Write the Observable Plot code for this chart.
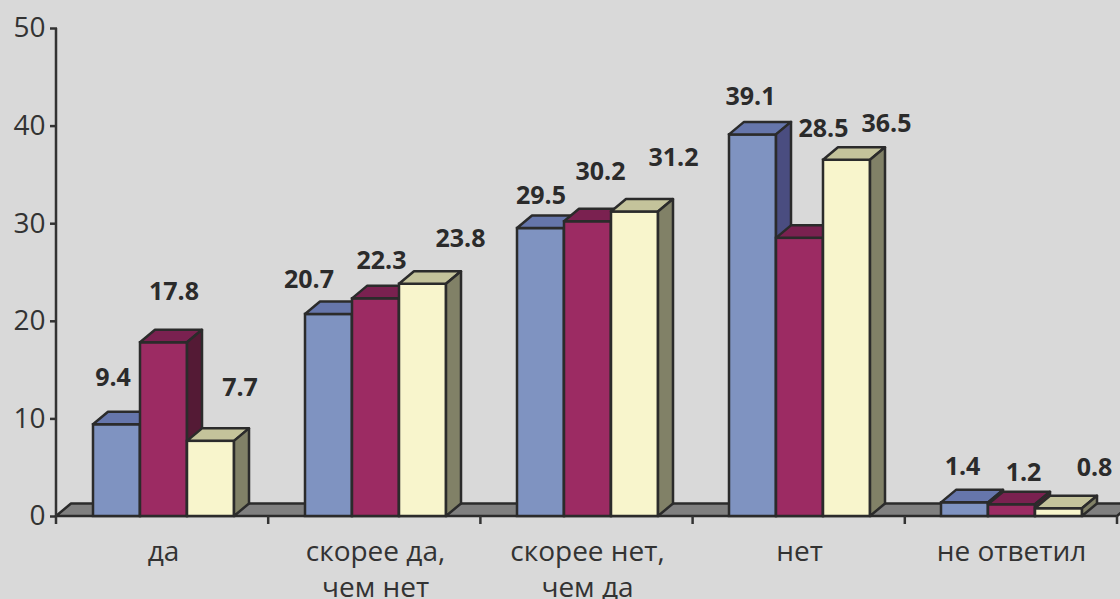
<!DOCTYPE html>
<html>
<head>
<meta charset="utf-8">
<script src="https://cdn.jsdelivr.net/npm/d3@7"></script>
<script src="https://cdn.jsdelivr.net/npm/@observablehq/plot@0.6"></script>
<style>
  html, body { margin: 0; padding: 0; background: #d9d9d9; }
  #chart svg { display: block; }
</style>
</head>
<body>
<div id="chart"></div>
<script>
// ---------- data ----------
const categories = ["да", "скорее да,\nчем нет", "скорее нет,\nчем да", "нет", "не ответил"];
const seriesNames = ["Серия 1", "Серия 2", "Серия 3"];
const series1 = [9.4, 20.7, 29.5, 39.1, 1.4];
const series2 = [17.8, 22.3, 30.2, 28.5, 1.2];
const series3 = [7.7, 23.8, 31.2, 36.5, 0.8];
const yTicks = [0, 10, 20, 30, 40, 50];

// ---------- style ----------
const frontColors = ["#7f93c1", "#9c2b63", "#f8f5cc"];
const topColors   = ["#6676ab", "#7a2150", "#c4c39b"];
const sideColors  = ["#4a4d80", "#541a35", "#818167"];
const floorColor = "#808080";
const ink = "#2b2b2b";
const DEPTH_X = 15, DEPTH_Y = 12.5;
// label nudges (px) relative to the bar's front-top centre, per category × series
const labelNudgeX = [[-4, 10, 29], [-20, 5.5, 37.5], [0, 12.5, 38.5], [-2.5, 23.5, 39.5], [-2.5, 11.5, 35.5]];
const labelNudgeY = [[-47, -51, -53], [-34, -38, -45], [-33, -50, -54], [-38, -109, -36], [-36, -32, -41]];

const seriesValues = [series1, series2, series3];
const table = categories.flatMap((c, i) =>
  seriesNames.map((s, j) => ({category: c, series: s, value: seriesValues[j][i]})));

const plot = Plot.plot({
  width: 1120,
  height: 599,
  marginTop: 28,
  marginBottom: 83,
  marginLeft: 56,
  marginRight: 3,
  style: {background: "#d9d9d9", fontFamily: "'Open Sans', sans-serif", fontSize: "28px", color: "#333"},
  fx: {domain: categories, padding: 0, axis: null},
  x: {domain: seriesNames, paddingInner: 0, paddingOuter: 0.75, axis: null},
  y: {domain: [0, 50], axis: null},
  color: {domain: seriesNames, range: frontColors},
  marks: [
    Plot.axisY(yTicks, {tickSize: 7, tickPadding: 5, strokeWidth: 2.5, stroke: "#333", fill: "#333", fontSize: 28, label: null}),
    Plot.barY(table, {fx: "category", x: "series", y: "value", fill: "series", stroke: ink, strokeWidth: 2.5}),
    Plot.text(table, {fx: "category", x: "series", y: "value", text: d => d.value.toFixed(1),
      fontSize: 25, fontWeight: "bold", fill: ink}),
    Plot.text(categories, {fx: d => d, text: d => d, frameAnchor: "bottom", lineAnchor: "top",
      dy: 19, lineHeight: 1.29, fontSize: 28, fill: "#333"})
  ]
});

// ---------- 3D decoration derived from the rendered marks ----------
const NS = "http://www.w3.org/2000/svg";
function poly(points, fill) {
  const p = document.createElementNS(NS, "polygon");
  p.setAttribute("points", points.map(q => q.join(",")).join(" "));
  p.setAttribute("fill", fill);
  p.setAttribute("stroke", ink);
  p.setAttribute("stroke-width", 2.5);
  p.setAttribute("stroke-linejoin", "round");
  return p;
}
function line(x1, y1, x2, y2) {
  const l = document.createElementNS(NS, "line");
  l.setAttribute("x1", x1); l.setAttribute("y1", y1);
  l.setAttribute("x2", x2); l.setAttribute("y2", y2);
  l.setAttribute("stroke", "#333");
  l.setAttribute("stroke-width", 2.5);
  return l;
}

const fx = plot.scale("fx");
const yS = plot.scale("y");
const left = Math.min(...fx.range), right = Math.max(...fx.range);
const y0 = yS.apply(0), yTop = yS.apply(50);
const step = (right - left) / categories.length;

const colorOf = el => {
  const c = d3.color(el.getAttribute("fill") || (el.parentNode && el.parentNode.getAttribute("fill")) || "");
  return c ? c.formatHex().toLowerCase() : "";
};
const rects = Array.from(plot.querySelectorAll("rect")).filter(r => frontColors.includes(colorOf(r)));

// floor slab, placed behind the bars
if (rects.length) {
  let topLevel = rects[0];
  while (topLevel.parentNode !== plot) topLevel = topLevel.parentNode;
  plot.insertBefore(poly([[left, y0], [right, y0], [right + DEPTH_X, y0 - DEPTH_Y], [left + DEPTH_X, y0 - DEPTH_Y]], floorColor), topLevel);
}

// bar tops and sides
rects.forEach((r, k) => {
  const x = +r.getAttribute("x"), y = +r.getAttribute("y");
  const w = +r.getAttribute("width"), h = +r.getAttribute("height");
  let j = frontColors.indexOf(colorOf(r));
  if (j < 0) j = k % 3;
  const topF = poly([[x, y], [x + w, y], [x + w + DEPTH_X, y - DEPTH_Y], [x + DEPTH_X, y - DEPTH_Y]], topColors[j]);
  const side = poly([[x + w, y], [x + w + DEPTH_X, y - DEPTH_Y], [x + w + DEPTH_X, y + h - DEPTH_Y], [x + w, y + h]], sideColors[j]);
  r.after(topF);
  topF.after(side);
});

// value label nudges
const labelIndex = new Map(table.map((d, k) => [d.value.toFixed(1), k]));
plot.querySelectorAll("text").forEach(t => {
  if (t.querySelector("tspan")) return;
  const k = labelIndex.get(t.textContent.trim());
  if (k == null || (t.getAttribute("font-weight") !== "bold" && (t.parentNode.getAttribute("font-weight") !== "bold"))) return;
  const ci = Math.floor(k / 3), sj = k % 3;
  const tr = t.getAttribute("transform") || "";
  t.setAttribute("transform", `${tr} translate(${labelNudgeX[ci][sj]},${labelNudgeY[ci][sj]})`);
});

// axis lines and category boundary ticks
plot.appendChild(line(left, yTop, left, y0 + 8));
for (let k = 1; k <= categories.length; k++) {
  plot.appendChild(line(left + k * step, y0, left + k * step, y0 + 8));
}

document.getElementById("chart").appendChild(plot);
</script>
</body>
</html>
